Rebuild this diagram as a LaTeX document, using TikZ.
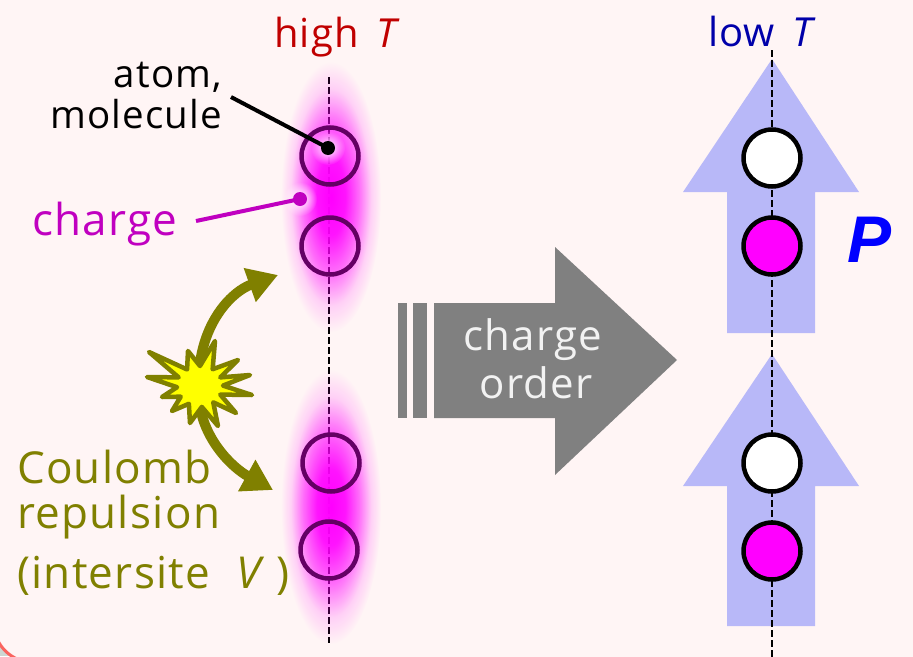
\documentclass[tikz,border=0pt]{standalone}
\usepackage{fontspec}
\setmainfont{Open Sans}[LetterSpace=3]
\newfontfamily\pfont{Liberation Sans}
\usetikzlibrary{arrows.meta,fadings}
\definecolor{bg}{RGB}{255,245,245}
\definecolor{cornergray}{RGB}{205,215,210}
\definecolor{salmon}{RGB}{250,100,95}
\definecolor{hightc}{RGB}{192,0,0}
\definecolor{lowtc}{RGB}{0,0,170}
\definecolor{chargec}{RGB}{192,0,192}
\definecolor{olivec}{RGB}{128,128,0}
\definecolor{atomline}{RGB}{100,0,100}
\definecolor{glowc}{RGB}{255,0,255}
\definecolor{arrowgray}{RGB}{128,128,128}
\definecolor{arrowtext}{RGB}{242,242,242}
\definecolor{lav}{RGB}{184,184,248}
\definecolor{starc}{RGB}{255,255,0}
\pgfdeclareradialshading{glowfadeshade}{\pgfpointorigin}{color(0bp)=(white); color(7bp)=(white!92!black); color(14bp)=(white!55!black); color(20bp)=(white!15!black); color(25bp)=(black); color(50bp)=(black)}
\pgfdeclarefading{glowfade}{\pgfuseshading{glowfadeshade}}
\tikzfading[name=softhalo, inner color=transparent!0, outer color=transparent!100]
\tikzset{
  lbl/.style={inner sep=0pt, outer sep=0pt},
  leftatom/.style={circle, draw=atomline, line width=4.5pt, minimum size=57pt, inner sep=0pt},
  whiteatom/.style={circle, draw=black, fill=white, line width=4.5pt, minimum size=57pt, inner sep=0pt},
  magatom/.style={circle, draw=black, fill=glowc, line width=4.5pt, minimum size=57pt, inner sep=0pt},
  chainline/.style={black, line width=2.8pt, dash pattern=on 6.5pt off 3.5pt},
  glow/.style={fill=glowc, path fading=glowfade},
  halo/.style={fill=white, path fading=softhalo},
  repel/.style={olivec, line width=10pt, -{Triangle[length=30pt,width=34pt]}},
  bigarrow/.style={fill=arrowgray},
  parrow/.style={fill=lav},
}
\begin{document}
\begin{tikzpicture}[x=1pt,y=-1pt]
\useasboundingbox (0,0) rectangle (913,656);
% background
\fill[cornergray] (0,0) rectangle (913,656);
\filldraw[fill=bg, draw=salmon, line width=3pt] (960,-50) -- (-6.5,-50) [rounded corners=40pt] -- (-6.5,662.5) -- (960,662.5) [sharp corners] -- cycle;

% ---------- left chain (high T) ----------
\node[lbl, anchor=base west, text=hightc, font=\fontsize{40}{44}\selectfont] (hight) at (274,47) {high\hspace{0.45em}\textit{T}};
\coordinate (ltop) at (329,77);
\coordinate (lbot) at (329,643);
\draw[chainline] (ltop) -- (lbot);
\fill[glow] (331,197) ellipse [x radius=50pt, y radius=135pt];
\fill[glow] (331,507) ellipse [x radius=50pt, y radius=137pt];

\coordinate (atomdot) at (328,148);
\coordinate (chargedot) at (300,199);
\fill[halo] (atomdot) circle (17pt);
\fill[halo] (chargedot) circle (17pt);

\node[leftatom] (L1) at (330,156) {};
\node[leftatom] (L2) at (330,246) {};
\node[leftatom] (L3) at (331,463) {};
\node[leftatom] (L4) at (329,550) {};

% labels with pointers
\node[lbl, anchor=base east, font=\fontsize{38.5}{42}\selectfont] (atomlbl) at (222,87) {atom,};
\node[lbl, anchor=base east, font=\fontsize{38.5}{42}\selectfont] (mollbl) at (222,128) {molecule};
\coordinate (atomstart) at (231,97);
\draw[black, line width=4pt] (atomstart) -- (atomdot);
\fill[black] (atomdot) circle (7pt);

\node[lbl, anchor=base west, text=chargec, font=\fontsize{44}{48}\selectfont] (chargelbl) at (32,235) {charge};
\coordinate (chargestart) at (196,221);
\draw[chargec, line width=4pt] (chargestart) -- (chargedot);
\fill[chargec] (chargedot) circle (7pt);

% Coulomb repulsion arrows and star
\coordinate (starc) at (200,386);
\coordinate (uptip) at (278,275);
\coordinate (downtip) at (273,490);
\draw[repel] (199,372) .. controls (203,320) and (233,291) .. (uptip);
\draw[repel] (199,400) .. controls (203,440) and (233,468) .. (downtip);
\filldraw[fill=starc, draw=olivec, line width=4.5pt, line join=round, shift={(starc)}]
  (-51,-34) -- (232:21) -- (-12,-35) -- (270:20) -- (15,-45) -- (307:21) -- (38,-26) -- (337:22)
  -- (50,-11) -- (359:23) -- (52,9) -- (23:22) -- (36,27) -- (51:21) -- (18,40) -- (85:21)
  -- (-10,37) -- (122:21) -- (-28,25) -- (151:22) -- (-38,11) -- (177:23) -- (-53,-9) -- (202:23) -- cycle;

\node[lbl, anchor=base west, text=olivec, font=\fontsize{44}{48}\selectfont] (coul1) at (17,483) {Coulomb};
\node[lbl, anchor=base west, text=olivec, font=\fontsize{44}{48}\selectfont] (coul2) at (17,528) {repulsion};
\node[lbl, anchor=base west, text=olivec, font=\fontsize{44}{48}\selectfont] (coul3) at (17,588) {(intersite\hspace{0.6em}\textit{V}\hspace{0.22em})};

% ---------- big gray arrow ----------
\fill[bigarrow] (398,303) rectangle (407,418);
\fill[bigarrow] (413,303) rectangle (427,418);
\fill[bigarrow] (434,303) -- (555,303) -- (555,247) -- (677,360) -- (555,475) -- (555,418) -- (434,418) -- cycle;
\node[lbl, anchor=base, text=arrowtext, font=\fontsize{42}{46}\selectfont] (co1) at (533,350) {charge};
\node[lbl, anchor=base, text=arrowtext, font=\fontsize{42}{46}\selectfont] (co2) at (536,398) {order};

% ---------- right chain (low T) ----------
\node[lbl, anchor=base west, text=lowtc, font=\fontsize{40}{44}\selectfont] (lowt) at (708,46) {low\hspace{0.45em}\textit{T}};
\fill[parrow] (772,59) -- (859,192) -- (815,192) -- (815,333) -- (727,333) -- (727,192) -- (683,192) -- cycle;
\fill[parrow] (772,354) -- (859,486) -- (815,486) -- (815,626) -- (727,626) -- (727,486) -- (683,486) -- cycle;
\coordinate (rtop) at (772,50);
\coordinate (rbot) at (772,660);
\draw[chainline] (rtop) -- (rbot);
\node[whiteatom] (R1) at (772,158) {};
\node[magatom] (R2) at (772,246) {};
\node[whiteatom] (R3) at (772,463) {};
\node[magatom] (R4) at (772,551) {};
\node[lbl, anchor=base west, text=blue, font=\pfont\fontsize{66}{70}\selectfont\bfseries\itshape] (P) at (847,262) {P};
\end{tikzpicture}
\end{document}
